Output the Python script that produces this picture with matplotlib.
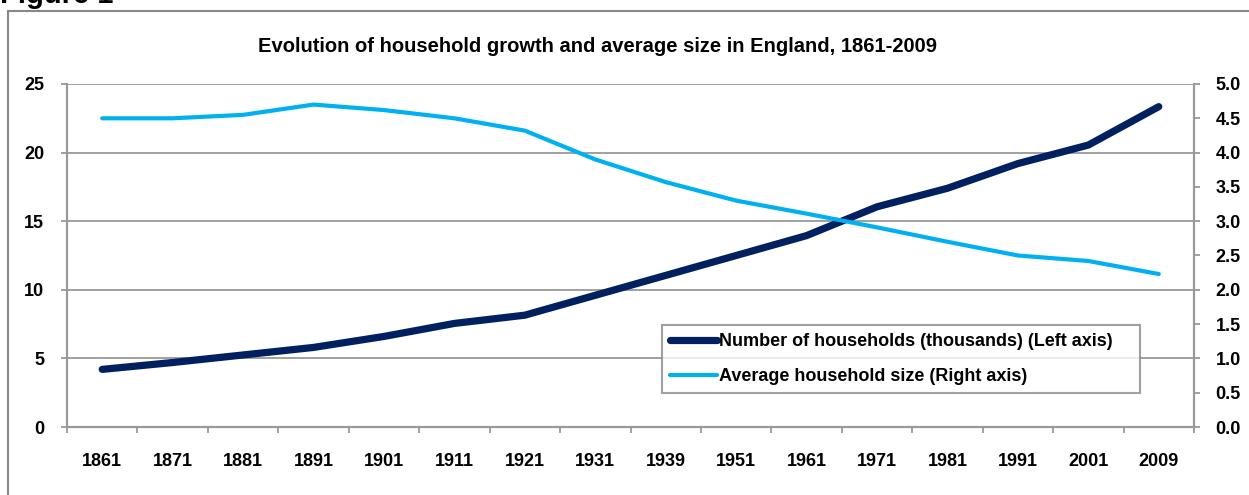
import numpy as np
import matplotlib.pyplot as plt
from matplotlib.patches import Rectangle

# data
years = ['1861', '1871', '1881', '1891', '1901', '1911', '1921', '1931',
         '1939', '1951', '1961', '1971', '1981', '1991', '2001', '2009']
households = [4.2, 4.7, 5.25, 5.8, 6.6, 7.55, 8.15, 9.6,
              11.05, 12.5, 13.95, 16.05, 17.4, 19.2, 20.55, 23.35]
avg_size = [4.5, 4.5, 4.55, 4.7, 4.62, 4.5, 4.32, 3.9,
            3.57, 3.3, 3.11, 2.91, 2.7, 2.5, 2.42, 2.23]

title = 'Evolution of household growth and average size in England, 1861-2009'
lbl_hh = 'Number of households (thousands) (Left axis)'
lbl_sz = 'Average household size (Right axis)'

NAVY = '#002060'
SKY = '#00B0F0'
GRID = '#999999'

plt.rcParams['font.family'] = ['Liberation Sans', 'DejaVu Sans']

W, H = 1249, 495
fig = plt.figure(figsize=(W / 100, H / 100), dpi=100)

# outer frame of the chart object
fig.patches.append(Rectangle((8 / W, -0.1), 1.2, 1 - 11 / H + 0.1,
                             transform=fig.transFigure, fill=False,
                             edgecolor='#888888', linewidth=1.5))
fig.text(0.0, 1 - 3 / H, 'Figure 1', fontsize=21, fontweight='bold',
         va='baseline', ha='left')

ax = fig.add_axes([67 / W, 1 - 427 / H, (1194 - 67) / W, (427 - 84) / H])
ax2 = ax.twinx()

x = np.arange(len(years))
ax.plot(x, households, color=NAVY, lw=5.2, solid_capstyle='round',
        solid_joinstyle='round', label=lbl_hh, zorder=3)
ax2.plot(x, avg_size, color=SKY, lw=3.0, solid_capstyle='round',
         solid_joinstyle='round', label=lbl_sz, zorder=3)

ax.set_xlim(-0.5, len(years) - 0.5)
ax.set_ylim(0, 25)
ax2.set_ylim(0, 5)
ax.set_yticks(np.arange(0, 26, 5))
ax2.set_yticks(np.arange(0, 5.01, 0.5))
ax2.set_yticklabels([f'{v:.1f}' for v in np.arange(0, 5.01, 0.5)])

ax.set_xticks(x)
ax.set_xticklabels(years)
ax.set_xticks(np.arange(-0.5, len(years), 1), minor=True)
ax.tick_params(axis='x', which='major', length=0, pad=19)
ax.tick_params(axis='x', which='minor', length=4.5, color=GRID, width=1.3)
ax.tick_params(axis='y', length=4.5, color=GRID, width=1.3, pad=12)
ax2.tick_params(axis='y', length=4.5, color=GRID, width=1.3, pad=11)

for a in (ax, ax2):
    for lab in a.get_xticklabels() + a.get_yticklabels():
        lab.set_fontweight('bold')
        lab.set_fontsize(13)

ax.grid(axis='y', color=GRID, lw=1.3)
ax.set_axisbelow(True)
for a in (ax, ax2):
    a.spines['top'].set_visible(False)
    for s in ('left', 'right', 'bottom'):
        a.spines[s].set_color(GRID)
        a.spines[s].set_linewidth(1.5)

fig.text(598 / W, 1 - 47 / H, title, fontsize=14.5, fontweight='bold',
         ha='center', va='center')

h1, l1 = ax.get_legend_handles_labels()
h2, l2 = ax2.get_legend_handles_labels()
leg = ax2.legend(h1 + h2, l1 + l2, loc='upper left',
                 bbox_to_anchor=(0.528, 0.099, 0.424, 0.198),
                 mode='expand', frameon=True, fancybox=False,
                 handlelength=2.6, handletextpad=0.1, borderaxespad=0,
                 labelspacing=1.0, borderpad=0.45,
                 prop={'weight': 'bold', 'size': 13})
leg.get_frame().set_edgecolor('#888888')
leg.get_frame().set_linewidth(1.5)

fig.savefig('out.png', dpi=100)
